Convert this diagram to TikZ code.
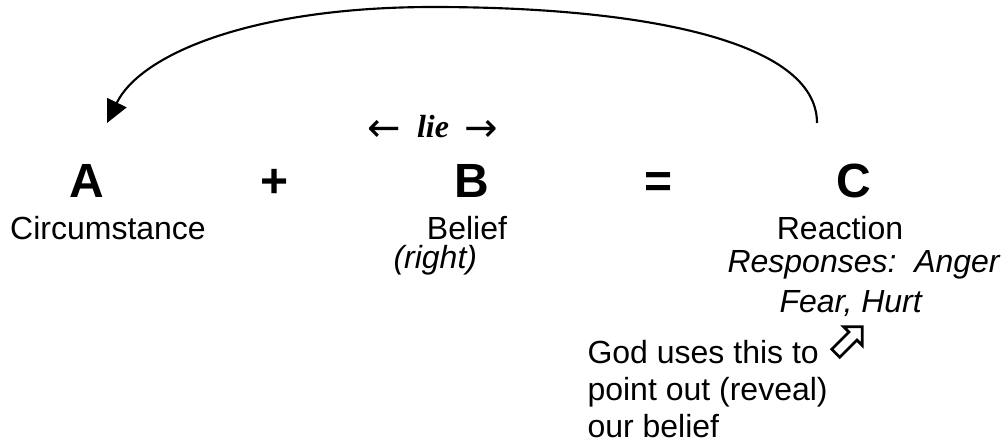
\documentclass[tikz,border=0pt]{standalone}
\usepackage{fontspec}
\setmainfont{Liberation Sans}
\newfontfamily\liefont{Liberation Serif}
\newfontfamily\arrowfont{DejaVu Sans}
\usetikzlibrary{arrows.meta,shapes.arrows}
\newcommand{\liearrow}[1]{\raisebox{-1.5pt}{\fontsize{15}{16}\arrowfont\upshape\mdseries\char"#1}}

\begin{document}
\begin{tikzpicture}[x=0.375pt, y=-0.375pt, >={Triangle[length=8.5pt,width=8pt]},
  every node/.style={inner sep=0pt},
  letter/.style={anchor=base, font=\fontsize{18}{21}\selectfont\bfseries},
  word/.style={anchor=base, font=\fontsize{12}{13.8}\selectfont},
  slant/.style={anchor=base west, font=\fontsize{12}{13.8}\selectfont\itshape},
  hollow/.style={single arrow, draw, line width=1pt, rotate=45, minimum height=14pt,
    single arrow head extend=2.8pt, inner ysep=1.6pt, inner xsep=0pt}]
\useasboundingbox (0,0) rectangle (1006,447);
% the equation
\node[letter] (A) at (87,197) {A};
\node[letter] (plus) at (275,197) {+};
\node[letter] (B) at (472,197) {B};
\node[letter] (eq) at (659,197) {=};
\node[letter] (C) at (854,197) {C};
\node[anchor=base, font=\fontsize{12}{13.8}\selectfont\liefont\bfseries\itshape] (lie) at (433,137)
  {\liearrow{2190}\hspace{6pt}lie\hspace{6pt}\liearrow{2192}};
% what the letters stand for
\node[word] (circ) at (108,239) {Circumstance};
\node[word] (belief) at (467,239) {Belief};
\node[word] (react) at (840,239) {Reaction};
\node[slant] (right) at (393,268) {(right)};
\node[slant] (resp) at (727,272) {Responses:\ \ Anger};
\node[slant] (fear) at (779,312) {Fear, Hurt};
\node[hollow] (hint) at (847,342) {};
\node[anchor=north west, align=left, font=\fontsize{12}{13.8}\selectfont] (god) at (587,340)
  {God uses this to\\ point out (reveal)\\ our belief};
% loop back from C to A
\coordinate (from) at ([shift={(-37,-74)}]C.base);
\coordinate (to) at ([shift={(20,-74)}]A.base);
\coordinate (top) at (433,7);
\draw[->, line width=0.8pt] (from) .. controls (817,40) and (640,7) .. (top)
  .. controls (250,7) and (140,55) .. (to);
\end{tikzpicture}
\end{document}
